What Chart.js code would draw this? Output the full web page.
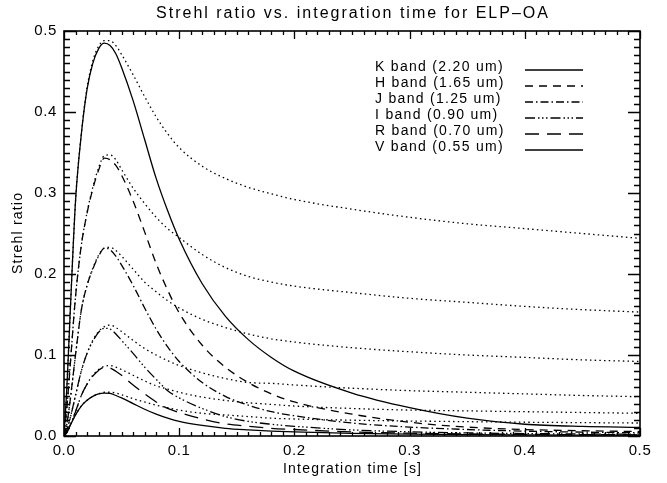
<!DOCTYPE html>
<html>
<head>
<meta charset="utf-8">
<script src="https://cdn.jsdelivr.net/npm/chart.js@4/dist/chart.umd.min.js"></script>
<style>
  html, body { margin: 0; padding: 0; background: #fff; }
  #wrap { width: 667px; height: 483px; }
</style>
</head>
<body>
<div id="wrap"><canvas id="c" width="667" height="483"></canvas></div>
<script>
// Integration times [s] at which the Strehl ratio is sampled
const times = [0, 0.0025, 0.005, 0.01, 0.015, 0.02, 0.025, 0.03, 0.035, 0.04, 0.045, 0.05,
  0.06, 0.07, 0.08, 0.09, 0.1, 0.12, 0.14, 0.16, 0.18, 0.2, 0.25, 0.3, 0.35, 0.4, 0.45, 0.5];

// Total Strehl ratio per band
const kTotal = [0, 0.06, 0.14, 0.29, 0.372, 0.428, 0.46, 0.478, 0.485, 0.482, 0.472, 0.455,
  0.414, 0.366, 0.318, 0.278, 0.243, 0.188, 0.148, 0.119, 0.097, 0.08, 0.053, 0.035, 0.022, 0.0145, 0.0118, 0.0107];
const hTotal = [0, 0.035, 0.08, 0.172, 0.235, 0.275, 0.305, 0.328, 0.343, 0.341, 0.334, 0.322,
  0.29, 0.252, 0.213, 0.18, 0.152, 0.112, 0.085, 0.066, 0.052, 0.042, 0.027, 0.017, 0.011, 0.008, 0.0065, 0.0055];
const jTotal = [0, 0.015, 0.04, 0.1, 0.155, 0.186, 0.206, 0.222, 0.232, 0.23, 0.222, 0.211,
  0.186, 0.158, 0.132, 0.11, 0.092, 0.066, 0.049, 0.038, 0.03, 0.025, 0.016, 0.011, 0.008, 0.006, 0.0048, 0.004];
const iTotal = [0, 0.008, 0.02, 0.05, 0.08, 0.102, 0.117, 0.128, 0.133, 0.132, 0.126, 0.118,
  0.102, 0.085, 0.07, 0.056, 0.047, 0.034, 0.024, 0.018, 0.0145, 0.012, 0.0075, 0.0052, 0.0038, 0.003, 0.0025, 0.0022];
const rTotal = [0, 0.004, 0.012, 0.03, 0.05, 0.064, 0.074, 0.081, 0.085, 0.084, 0.08, 0.075,
  0.063, 0.052, 0.042, 0.034, 0.029, 0.021, 0.015, 0.012, 0.0095, 0.008, 0.005, 0.0035, 0.0026, 0.002, 0.0017, 0.0015];
const vTotal = [0, 0.005, 0.012, 0.026, 0.037, 0.044, 0.049, 0.052, 0.053, 0.0525, 0.05, 0.047,
  0.04, 0.033, 0.027, 0.022, 0.018, 0.013, 0.0095, 0.0075, 0.006, 0.005, 0.0032, 0.0022, 0.0016, 0.0013, 0.0011, 0.001];

// Companion (dotted) Strehl curves per band
const kDotted = [0, 0.06, 0.14, 0.29, 0.373, 0.43, 0.463, 0.481, 0.488, 0.488, 0.482, 0.471,
  0.446, 0.419, 0.394, 0.373, 0.356, 0.333, 0.318, 0.307, 0.299, 0.292, 0.28, 0.27, 0.262, 0.256, 0.25, 0.244];
const hDotted = [0, 0.035, 0.08, 0.172, 0.235, 0.276, 0.307, 0.331, 0.346, 0.347, 0.341, 0.329,
  0.306, 0.287, 0.27, 0.256, 0.245, 0.224, 0.208, 0.197, 0.19, 0.185, 0.177, 0.17, 0.165, 0.16, 0.156, 0.153];
const jDotted = [0, 0.015, 0.04, 0.1, 0.155, 0.186, 0.207, 0.223, 0.232, 0.233, 0.229, 0.222,
  0.206, 0.19, 0.178, 0.167, 0.158, 0.144, 0.134, 0.126, 0.12, 0.116, 0.109, 0.104, 0.1, 0.097, 0.094, 0.092];
const iDotted = [0, 0.008, 0.02, 0.05, 0.08, 0.102, 0.118, 0.129, 0.135, 0.137, 0.134, 0.129,
  0.118, 0.108, 0.1, 0.093, 0.087, 0.078, 0.071, 0.066, 0.065, 0.063, 0.059, 0.056, 0.054, 0.052, 0.05, 0.0485];
const rDotted = [0, 0.004, 0.012, 0.03, 0.05, 0.064, 0.075, 0.082, 0.086, 0.087, 0.085, 0.082,
  0.075, 0.068, 0.062, 0.058, 0.054, 0.048, 0.044, 0.041, 0.039, 0.037, 0.034, 0.032, 0.031, 0.03, 0.029, 0.028];
const vDotted = [0, 0.005, 0.012, 0.026, 0.037, 0.044, 0.049, 0.052, 0.054, 0.054, 0.053, 0.051,
  0.046, 0.042, 0.038, 0.035, 0.032, 0.028, 0.026, 0.024, 0.022, 0.021, 0.0195, 0.0185, 0.0177, 0.017, 0.0165, 0.016];

const bandLabels = ['K band (2.20 um)', 'H band (1.65 um)', 'J band (1.25 um)',
  'I band (0.90 um)', 'R band (0.70 um)', 'V band (0.55 um)'];
const xTickValues = [0, 0.1, 0.2, 0.3, 0.4, 0.5];
const yTickValues = [0, 0.1, 0.2, 0.3, 0.4, 0.5];

const FONT = '"Liberation Sans", Arial, Helvetica, sans-serif';

// IDL-style line styles: solid, dashed, dash-dot, dash-dot-dot-dot, long dash, solid
const lineDashes = [[], [8, 6], [8, 3, 1.5, 3], [10, 3, 1.5, 2.5, 1.5, 2.5, 1.5, 3], [14, 8], []];
const dottedDash = [1.5, 3.2];

const totals = [kTotal, hTotal, jTotal, iTotal, rTotal, vTotal];
const dotted = [kDotted, hDotted, jDotted, iDotted, rDotted, vDotted];

function pts(arr) { return times.map((t, i) => ({ x: t, y: arr[i] })); }

const datasets = [];
bandLabels.forEach((lab, i) => {
  datasets.push({
    label: lab, data: pts(totals[i]), borderColor: '#000', borderWidth: 1.3,
    borderDash: lineDashes[i], pointRadius: 0, fill: false,
    cubicInterpolationMode: 'monotone', clip: 0
  });
});
bandLabels.forEach((lab, i) => {
  datasets.push({
    label: lab + ' dotted', data: pts(dotted[i]), borderColor: '#000', borderWidth: 1.3,
    borderDash: dottedDash, borderCapStyle: 'butt', pointRadius: 0, fill: false,
    cubicInterpolationMode: 'monotone', clip: 0
  });
});

function spacedText(ctx, text, x, y, spacing, align) {
  ctx.letterSpacing = spacing + 'px';
  const w = ctx.measureText(text).width - spacing;
  let x0 = x;
  if (align === 'center') x0 = x - w / 2;
  ctx.textAlign = 'left';
  ctx.fillText(text, x0, y);
  ctx.letterSpacing = '0px';
}

// Frame with inward major/minor ticks on all four sides, titles and legend
const idlFrame = {
  id: 'idlFrame',
  beforeDraw(chart) { chart.ctx.letterSpacing = '0.6px'; },
  afterDraw(chart) {
    const ctx = chart.ctx;
    const a = chart.chartArea;
    const xs = chart.scales.x, ys = chart.scales.y;
    ctx.save();
    ctx.strokeStyle = '#000';
    ctx.lineWidth = 1.6;
    ctx.strokeRect(a.left, a.top, a.right - a.left, a.bottom - a.top);

    ctx.lineWidth = 1.3;
    ctx.beginPath();
    for (let k = 0; k <= 50; k++) {
      const v = k / 100;
      const major = k % 10 === 0;
      const px = Math.round(xs.getPixelForValue(v)) + 0.5;
      const lx = major ? 8 : 4;
      ctx.moveTo(px, a.bottom); ctx.lineTo(px, a.bottom - lx);
      ctx.moveTo(px, a.top); ctx.lineTo(px, a.top + lx);
      const py = Math.round(ys.getPixelForValue(v)) + 0.5;
      const ly = major ? 12 : 6;
      ctx.moveTo(a.left, py); ctx.lineTo(a.left + ly, py);
      ctx.moveTo(a.right, py); ctx.lineTo(a.right - ly, py);
    }
    ctx.stroke();

    ctx.fillStyle = '#000';
    ctx.textBaseline = 'middle';
    // Chart title
    ctx.font = '16px ' + FONT;
    spacedText(ctx, 'Strehl ratio vs. integration time for ELP\u2013OA', (a.left + a.right) / 2, 14, 2, 'center');

    // Axis titles
    ctx.font = '14px ' + FONT;
    spacedText(ctx, 'Integration time [s]', (a.left + a.right) / 2, 469, 1.2, 'center');
    ctx.save();
    ctx.translate(18, (a.top + a.bottom) / 2);
    ctx.rotate(-Math.PI / 2);
    spacedText(ctx, 'Strehl ratio', 0, 0, 1.2, 'center');
    ctx.restore();

    // Legend: label on the left, line sample on the right
    ctx.font = '14px ' + FONT;
    bandLabels.forEach((lab, i) => {
      const y = 67 + i * 16;
      spacedText(ctx, lab, 375, y, 1.3, 'left');
      ctx.beginPath();
      ctx.lineWidth = 1.3;
      ctx.setLineDash(lineDashes[i]);
      ctx.moveTo(525, y + 3);
      ctx.lineTo(583, y + 3);
      ctx.stroke();
    });
    ctx.setLineDash([]);
    ctx.restore();
  }
};

new Chart(document.getElementById('c'), {
  type: 'line',
  data: { datasets },
  options: {
    responsive: false,
    animation: false,
    devicePixelRatio: 1,
    layout: { padding: { top: 31, right: 27, left: 0, bottom: 0 } },
    plugins: { legend: { display: false }, title: { display: false }, tooltip: { enabled: false } },
    scales: {
      x: {
        type: 'linear', min: 0, max: 0.5,
        afterFit(s) { s.height = 47; },
        afterBuildTicks(s) { s.ticks = xTickValues.map(v => ({ value: v })); },
        grid: { display: false, drawTicks: false },
        border: { display: false },
        ticks: {
          color: '#000', padding: 6, maxRotation: 0, autoSkip: false,
          font: { family: FONT, size: 15 },
          callback: v => v.toFixed(1)
        }
      },
      y: {
        type: 'linear', min: 0, max: 0.5,
        afterFit(s) { s.width = 64; },
        afterBuildTicks(s) { s.ticks = yTickValues.map(v => ({ value: v })); },
        grid: { display: false, drawTicks: false },
        border: { display: false },
        ticks: {
          color: '#000', padding: 7, autoSkip: false,
          font: { family: FONT, size: 15 },
          callback: v => v.toFixed(1)
        }
      }
    }
  },
  plugins: [idlFrame]
});
</script>
</body>
</html>
